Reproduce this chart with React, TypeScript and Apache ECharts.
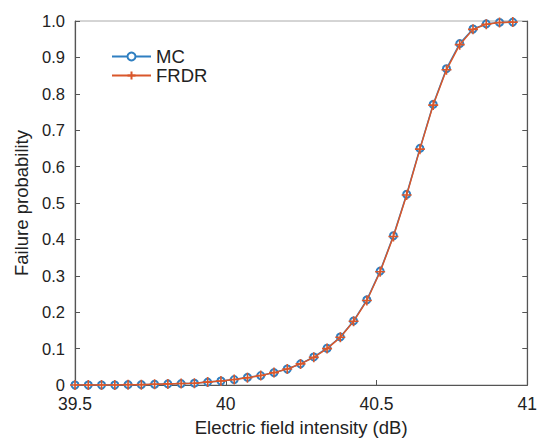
import React, { useEffect, useRef } from "react";
import * as echarts from "echarts";

const xValues = [
  39.5, 39.544, 39.588, 39.632, 39.676, 39.72, 39.764, 39.808, 39.852, 39.896,
  39.94, 39.984, 40.028, 40.072, 40.116, 40.16, 40.204, 40.248, 40.292, 40.336,
  40.38, 40.424, 40.468, 40.512, 40.556, 40.6, 40.644, 40.688, 40.732, 40.776,
  40.82, 40.864, 40.908, 40.952,
];

const mcValues = [
  0.0, 0.0, 0.0, 0.0, 0.001, 0.001, 0.002, 0.003, 0.004, 0.005,
  0.008, 0.011, 0.015, 0.021, 0.026, 0.034, 0.044, 0.058, 0.077, 0.101,
  0.132, 0.176, 0.234, 0.313, 0.41, 0.524, 0.65, 0.771, 0.869, 0.938,
  0.978, 0.992, 0.996, 0.997,
];

const frdrValues = [
  0.0, 0.0, 0.0, 0.0, 0.001, 0.001, 0.002, 0.003, 0.004, 0.005,
  0.008, 0.011, 0.015, 0.02, 0.026, 0.034, 0.044, 0.058, 0.076, 0.1,
  0.131, 0.175, 0.232, 0.311, 0.408, 0.522, 0.648, 0.769, 0.866, 0.935,
  0.977, 0.991, 0.996, 0.997,
];

const seriesNames = ["MC", "FRDR"];
const xLabel = "Electric field intensity (dB)";
const yLabel = "Failure probability";

const FONT = "Liberation Sans, Arial, sans-serif";

export default function App() {
  const ref = useRef<HTMLDivElement>(null);
  useEffect(() => {
    if (!ref.current) return;
    const chart = echarts.init(ref.current, undefined, { renderer: "svg" });
    const plus = "path://M0,5L10,5M5,0L5,10";
    chart.setOption({
      animation: false,
      backgroundColor: "#ffffff",
      textStyle: { fontFamily: FONT },
      grid: {
        left: 75,
        right: 12,
        top: 21,
        bottom: 53,
        show: true,
        borderColor: "#aaaaaa",
        borderWidth: 1,
      },
      legend: {
        left: 106,
        top: 42,
        orient: "vertical",
        itemWidth: 39,
        itemHeight: 10,
        itemGap: 0,
        textStyle: { fontSize: 18.5, color: "#222", fontFamily: FONT },
        data: seriesNames,
      },
      xAxis: {
        type: "value",
        min: 39.5,
        max: 41,
        interval: 0.5,
        name: xLabel,
        nameLocation: "middle",
        nameGap: 33,
        nameTextStyle: { fontSize: 18.5, color: "#222", fontFamily: FONT },
        axisLine: { show: true, lineStyle: { color: "#555", width: 1.2 } },
        axisTick: { show: true, inside: true, length: 5, lineStyle: { color: "#555" } },
        axisLabel: {
          fontSize: 17.5,
          color: "#222",
          margin: 10,
          fontFamily: FONT,
          formatter: (v: number) => String(Math.round(v * 10) / 10),
        },
        splitLine: { show: false },
      },
      yAxis: [
        {
          type: "value",
          min: 0,
          max: 1,
          interval: 0.1,
          name: yLabel,
          nameLocation: "middle",
          nameGap: 35,
          nameTextStyle: { fontSize: 18.5, color: "#222", fontFamily: FONT },
          axisLine: { show: true, lineStyle: { color: "#555", width: 1.2 } },
          axisTick: { show: true, inside: true, length: 5, lineStyle: { color: "#555" } },
          axisLabel: {
            fontSize: 16.5,
            color: "#222",
            margin: 10,
            fontFamily: FONT,
            formatter: (v: number) => (v === 0 ? "0" : v.toFixed(1)),
          },
          splitLine: { show: false },
        },
        {
          type: "value",
          position: "right",
          min: 0,
          max: 1,
          interval: 0.1,
          axisLine: { show: true, lineStyle: { color: "#555", width: 1.2 } },
          axisTick: { show: true, inside: true, length: 5, lineStyle: { color: "#555" } },
          axisLabel: { show: false },
          splitLine: { show: false },
        },
      ],
      series: [
        {
          name: seriesNames[0],
          type: "line",
          data: xValues.map((x, i) => [x, mcValues[i]]),
          symbol: "emptyCircle",
          symbolSize: 7,
          showAllSymbol: true,
          lineStyle: { color: "#2f7fc1", width: 1.5 },
          itemStyle: { color: "#2f7fc1", borderColor: "#2f7fc1", borderWidth: 1.3 },
          z: 2,
        },
        {
          name: seriesNames[1],
          type: "line",
          data: xValues.map((x, i) => [x, frdrValues[i]]),
          symbol: plus,
          symbolSize: 10,
          showAllSymbol: true,
          lineStyle: { color: "#d9572b", width: 1.5 },
          itemStyle: { color: "#d9572b", borderColor: "#d9572b", borderWidth: 1.6 },
          z: 3,
        },
      ],
    });
    return () => chart.dispose();
  }, []);
  return (
    <div
      ref={ref}
      style={{ position: "fixed", left: 0, top: 0, width: 540, height: 442 }}
    />
  );
}
